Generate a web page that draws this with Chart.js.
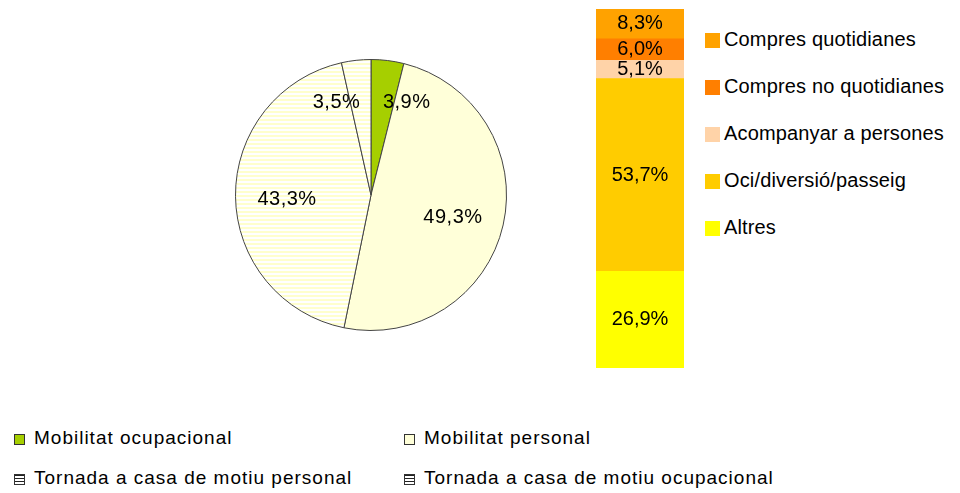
<!DOCTYPE html>
<html>
<head>
  <meta charset="utf-8">
  <style>
    body { margin: 0; background: #fff; }
    #wrap { position: relative; width: 960px; height: 493px; font-family: "Liberation Sans", Arial, sans-serif; color: #000; }
    #pieBox { position: absolute; left: 235px; top: 59px; width: 272px; height: 272px; }
    #barBox { position: absolute; left: 596px; top: 9px; width: 88px; height: 359px; }
    .leg { position: absolute; line-height: 20px; white-space: nowrap; }
    .leg i { position: absolute; display: block; }
    .right { font-size: 20px; letter-spacing: 0.15px; }
    .bottom { font-size: 19px; letter-spacing: 1px; }
    .rbox { width: 15px; height: 15px; left: -19px; top: 4px; }
    .bbox { width: 9px; height: 9px; left: -20px; top: 6px; border: 1px solid #333; }
    .stripe { background: repeating-linear-gradient(to bottom, #222 0, #222 1px, #fff 1px, #fff 3px); }
  </style>
  <script src="https://cdn.jsdelivr.net/npm/chart.js"></script>
</head>
<body>
  <div id="wrap">
    <div id="pieBox"><canvas id="pieChart"></canvas></div>
    <div id="barBox"><canvas id="barChart"></canvas></div>
    <div id="legends"></div>
  </div>

  <script>
    // pie: motius de desplaçament
    const pieLabels = ['Mobilitat ocupacional', 'Mobilitat personal', 'Tornada a casa de motiu personal', 'Tornada a casa de motiu ocupacional'];
    const pieValues = [3.9, 49.3, 43.3, 3.5];

    // stacked bar: detall de mobilitat personal (top to bottom)
    const barLabels = ['Compres quotidianes', 'Compres no quotidianes', 'Acompanyar a persones', 'Oci/diversió/passeig', 'Altres'];
    const barValues = [8.3, 6.0, 5.1, 53.7, 26.9];
    const barColors = ['#ffa200', '#ff7f00', '#ffd3a8', '#ffcc00', '#ffff00'];

    const fmt = v => v.toFixed(1).replace('.', ',') + '%';

    // striped fill for the "tornada" slices
    const pc = document.createElement('canvas');
    pc.width = 4; pc.height = 4;
    const pctx = pc.getContext('2d');
    pctx.fillStyle = '#ffffff';
    pctx.fillRect(0, 0, 4, 4);
    pctx.fillStyle = '#ffffcc';
    pctx.fillRect(0, 0, 4, 2);
    const stripes = pctx.createPattern(pc, 'repeat');

    const pieColors = ['#a6cf00', '#ffffd9', stripes, stripes];

    const pieLabelPlugin = {
      id: 'pieLabels',
      afterDatasetsDraw(chart) {
        const ctx = chart.ctx;
        const meta = chart.getDatasetMeta(0);
        ctx.save();
        ctx.font = '20px "Liberation Sans", Arial, sans-serif';
        ctx.letterSpacing = '0.5px';
        ctx.fillStyle = '#000';
        ctx.textBaseline = 'middle';
        meta.data.forEach((arc, i) => {
          const p = arc.getProps(['x', 'y', 'startAngle', 'endAngle', 'outerRadius'], true);
          const mid = (p.startAngle + p.endAngle) / 2;
          const small = pieValues[i] < 10;
          const r = p.outerRadius * (small ? 0.72 : 0.62);
          const x = p.x + Math.cos(mid) * r;
          const y = p.y + Math.sin(mid) * r + 4;
          if (small) ctx.textAlign = Math.cos(mid) >= 0 ? 'left' : 'right';
          else ctx.textAlign = 'center';
          ctx.fillText(fmt(pieValues[i]), x, y);
        });
        ctx.restore();
      }
    };

    new Chart(document.getElementById('pieChart'), {
      type: 'pie',
      data: {
        labels: pieLabels,
        datasets: [{
          data: pieValues,
          backgroundColor: pieColors,
          borderColor: '#444',
          borderWidth: 1
        }]
      },
      options: {
        responsive: true,
        maintainAspectRatio: false,
        animation: false,
        plugins: { legend: { display: false }, tooltip: { enabled: false } }
      },
      plugins: [pieLabelPlugin]
    });

    const barLabelPlugin = {
      id: 'barLabels',
      afterDatasetsDraw(chart) {
        const ctx = chart.ctx;
        ctx.save();
        ctx.font = '20px "Liberation Sans", Arial, sans-serif';
        ctx.fillStyle = '#000';
        ctx.textAlign = 'center';
        ctx.textBaseline = 'middle';
        chart.data.datasets.forEach((ds, i) => {
          const bar = chart.getDatasetMeta(i).data[0];
          const p = bar.getProps(['x', 'y', 'base'], true);
          ctx.fillText(fmt(ds.data[0]), p.x, (p.y + p.base) / 2);
        });
        ctx.restore();
      }
    };

    // stack from the bottom: reverse so "Altres" sits at the base
    const barSets = barLabels.map((l, i) => ({
      label: l,
      data: [barValues[i]],
      backgroundColor: barColors[i],
      borderWidth: 0,
      barPercentage: 1,
      categoryPercentage: 1
    })).reverse();

    new Chart(document.getElementById('barChart'), {
      type: 'bar',
      data: { labels: [''], datasets: barSets },
      options: {
        responsive: true,
        maintainAspectRatio: false,
        animation: false,
        layout: { padding: 0 },
        scales: {
          x: { stacked: true, display: false },
          y: { stacked: true, display: false, min: 0, max: 100 }
        },
        plugins: { legend: { display: false }, tooltip: { enabled: false } }
      },
      plugins: [barLabelPlugin]
    });

    // legends
    const legends = document.getElementById('legends');
    barLabels.forEach((l, i) => {
      const d = document.createElement('div');
      d.className = 'leg right';
      d.style.left = '724px';
      d.style.top = (29 + i * 47) + 'px';
      d.innerHTML = '<i class="rbox" style="background:' + barColors[i] + '"></i>' + l;
      legends.appendChild(d);
    });
    const bottomPos = [[34, 428], [424, 428], [34, 468], [424, 468]];
    pieLabels.forEach((l, i) => {
      const d = document.createElement('div');
      d.className = 'leg bottom';
      d.style.left = bottomPos[i][0] + 'px';
      d.style.top = bottomPos[i][1] + 'px';
      const box = i < 2
        ? '<i class="bbox" style="background:' + pieColors[i] + '"></i>'
        : '<i class="bbox stripe"></i>';
      d.innerHTML = box + l;
      legends.appendChild(d);
    });
  </script>
</body>
</html>
